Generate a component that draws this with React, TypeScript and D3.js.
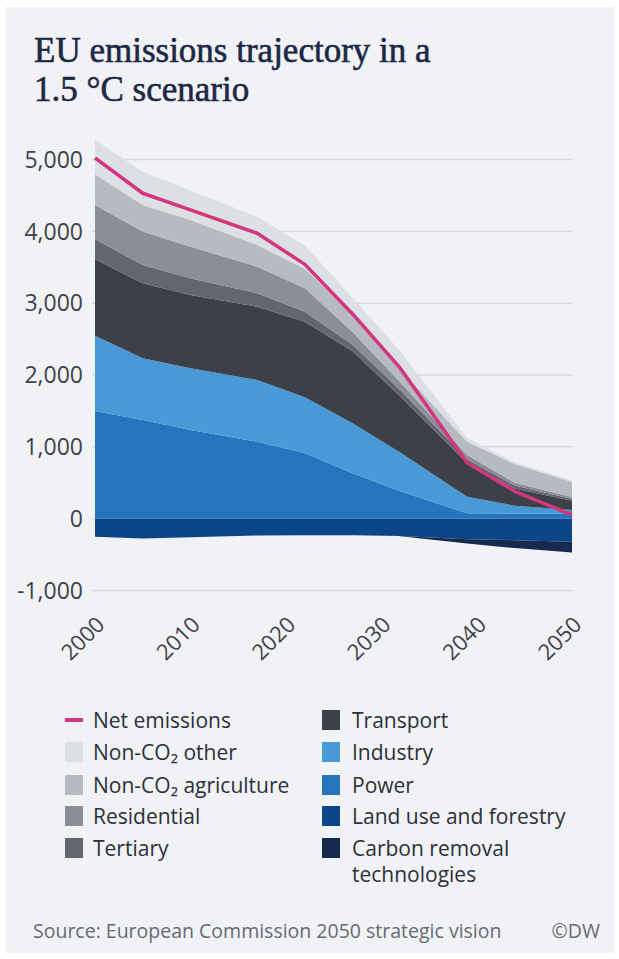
import React from "react";
import * as d3 from "d3";

const years = [2000, 2005, 2010, 2017, 2022, 2027, 2032, 2039, 2044, 2050];
const power = [1500, 1374, 1235, 1072, 910, 632, 380, 75, 70, 70];
const industry = [1045, 859, 859, 859, 780, 696, 540, 231, 110, 50];
const transport = [1067, 1044, 1020, 1020, 1053, 1002, 780, 465, 240, 130];
const tertiary = [278, 255, 233, 187, 139, 90, 90, 56, 40, 25];
const residential = [477, 464, 440, 370, 326, 180, 110, 60, 40, 25];
const nonCO2Agri = [428, 369, 371, 302, 272, 250, 180, 185, 260, 210];
const nonCO2Other = [477, 466, 412, 394, 320, 230, 250, 47, 30, 20];
const landUse = [-250, -275, -260, -235, -230, -230, -240, -285, -300, -320];
const carbonRemoval = [0, 0, 0, 0, 0, 0, -5, -60, -110, -150];
const netEmissions = [5022, 4530, 4300, 3973, 3540, 2850, 2095, 780, 380, 52];

const yTicks = [-1000, 0, 1000, 2000, 3000, 4000, 5000];
const xTicks = [2000, 2010, 2020, 2030, 2040, 2050];

const seriesKeys = [
  "landUse",
  "carbonRemoval",
  "power",
  "industry",
  "transport",
  "tertiary",
  "residential",
  "nonCO2Agri",
  "nonCO2Other",
];
const seriesValues: Record<string, number[]> = {
  landUse,
  carbonRemoval,
  power,
  industry,
  transport,
  tertiary,
  residential,
  nonCO2Agri,
  nonCO2Other,
};
const colors: Record<string, string> = {
  nonCO2Other: "#dcdfe3",
  nonCO2Agri: "#b6bbc2",
  residential: "#8a8f97",
  tertiary: "#61666f",
  transport: "#3b4049",
  industry: "#4899d6",
  power: "#2674bd",
  landUse: "#0c4689",
  carbonRemoval: "#162a50",
};
const netColor = "#d4357f";

const legendLeft = [
  { key: "net", label: "Net emissions" },
  { key: "nonCO2Other", label: "Non-CO₂ other" },
  { key: "nonCO2Agri", label: "Non-CO₂ agriculture" },
  { key: "residential", label: "Residential" },
  { key: "tertiary", label: "Tertiary" },
];
const legendRight = [
  { key: "transport", label: ["Transport"] },
  { key: "industry", label: ["Industry"] },
  { key: "power", label: ["Power"] },
  { key: "landUse", label: ["Land use and forestry"] },
  { key: "carbonRemoval", label: ["Carbon removal", "technologies"] },
];

const W = 619;
const H = 959;
const SANS = "'Open Sans', 'Noto Sans', sans-serif";
const SERIF = "'Liberation Serif', 'DejaVu Serif', serif";

export default function App() {
  const x = d3.scaleLinear().domain([2000, 2050]).range([95, 572]);
  const y = d3.scaleLinear().domain([-1000, 5000]).range([590.5, 159.5]);

  const table = years.map((yr, i) => {
    const row: Record<string, number> = { year: yr };
    seriesKeys.forEach((k) => (row[k] = seriesValues[k][i]));
    return row;
  });
  const stacked = d3
    .stack<Record<string, number>>()
    .keys(seriesKeys)
    .offset(d3.stackOffsetDiverging)(table);

  const area = d3
    .area<d3.SeriesPoint<Record<string, number>>>()
    .x((d) => x(d.data.year))
    .y0((d) => y(d[0]))
    .y1((d) => y(d[1]))
    .curve(d3.curveLinear);

  const netLine = d3
    .line<number>()
    .x((_, i) => x(years[i]))
    .y((d) => y(d))
    .curve(d3.curveLinear);

  const fmt = (v: number) => (v < 0 ? "-" + d3.format(",")(-v) : d3.format(",")(v));

  const rowY = [720, 752, 785, 816, 848];

  return (
    <svg
      width={W}
      height={H}
      style={{ position: "absolute", left: 0, top: 0, background: "#ffffff" }}
    >
      <rect x={5} y={7} width={609} height={946} fill="#f1f2f6" />
      <g fontFamily={SERIF} fontSize={35} fill="#1d2845" stroke="#1d2845" strokeWidth={0.6}>
        <text x={34} y={62}>
          EU emissions trajectory in a
        </text>
        <text x={34} y={101}>
          1.5 °C scenario
        </text>
      </g>

      {yTicks.map((t) => (
        <line
          key={"g" + t}
          x1={92}
          x2={573}
          y1={y(t)}
          y2={y(t)}
          stroke="#d9dadf"
          strokeWidth={1.5}
        />
      ))}

      {stacked.map((s) => (
        <path key={s.key} d={area(s) || ""} fill={colors[s.key]} />
      ))}

      <path
        d={netLine(netEmissions) || ""}
        fill="none"
        stroke={netColor}
        strokeWidth={3.5}
        strokeLinejoin="round"
      />

      {yTicks.map((t) => (
        <text
          key={"yl" + t}
          x={83}
          y={y(t)}
          dy="0.36em"
          textAnchor="end"
          fontFamily={SANS}
          fontSize={23}
          fill="#3e424b"
        >
          {fmt(t)}
        </text>
      ))}

      {xTicks.map((t) => (
        <text
          key={"xl" + t}
          transform={`translate(${x(t) + 11},${626}) rotate(-45)`}
          textAnchor="end"
          fontFamily={SANS}
          fontSize={22}
          fill="#3e424b"
        >
          {t}
        </text>
      ))}

      {legendLeft.map((item, i) => (
        <g key={item.key}>
          {item.key === "net" ? (
            <line
              x1={65}
              x2={83}
              y1={rowY[i]}
              y2={rowY[i]}
              stroke={netColor}
              strokeWidth={4}
            />
          ) : (
            <rect x={65} y={rowY[i] - 10} width={18} height={20} fill={colors[item.key]} />
          )}
          <text
            x={93}
            y={rowY[i]}
            dy="0.36em"
            fontFamily={SANS}
            fontSize={21}
            fill="#2c3039"
          >
            {item.label}
          </text>
        </g>
      ))}
      {legendRight.map((item, i) => (
        <g key={item.key}>
          <rect x={322} y={rowY[i] - 10} width={18} height={20} fill={colors[item.key]} />
          {item.label.map((l, j) => (
            <text
              key={j}
              x={352}
              y={rowY[i] + j * 26}
              dy="0.36em"
              fontFamily={SANS}
              fontSize={21}
              fill="#2c3039"
            >
              {l}
            </text>
          ))}
        </g>
      ))}

      <text x={33} y={938} fontFamily={SANS} fontSize={19.5} fill="#656a74">
        Source: European Commission 2050 strategic vision
      </text>
      <text x={600} y={938} textAnchor="end" fontFamily={SANS} fontSize={19.5} fill="#656a74">
        ©DW
      </text>
    </svg>
  );
}
